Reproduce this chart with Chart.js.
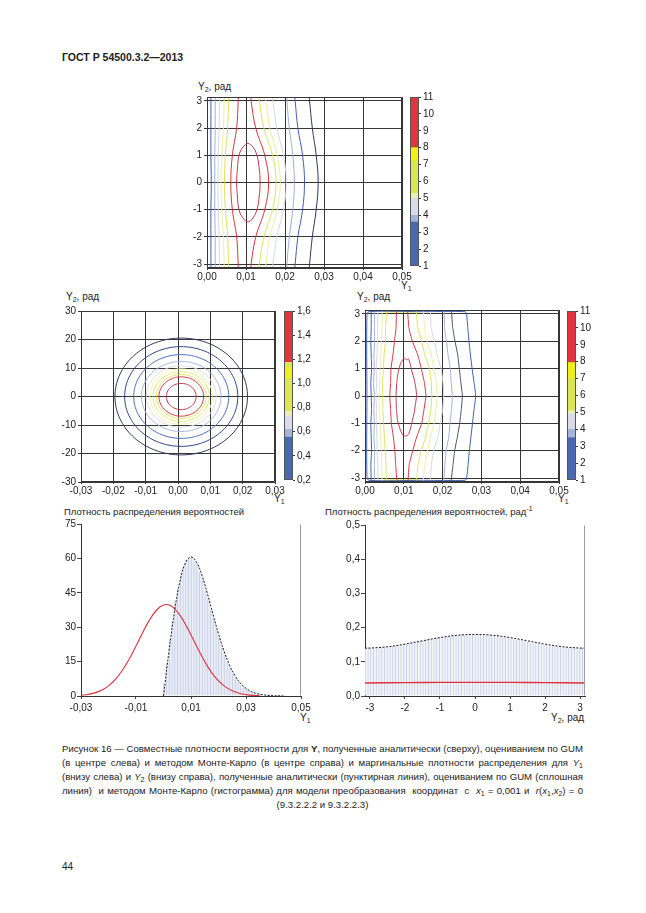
<!DOCTYPE html>
<html>
<head>
<meta charset="utf-8">
<script src="https://cdn.jsdelivr.net/npm/chart.js@4.4.1/dist/chart.umd.min.js"></script>
<style>
  body { margin: 0; background: #fff; }
  #page { position: relative; width: 646px; height: 913px; background: #fff; overflow: hidden;
          font-family: "Liberation Sans", Arial, sans-serif; color: #222; }
  #page canvas { position: absolute; }
  .t { position: absolute; font-size: 10px; line-height: 10px; white-space: nowrap; }
  .t sub { font-size: 7px; line-height: 0; vertical-align: -2px; }
  .t sup { font-size: 7px; line-height: 0; vertical-align: 4px; }
  #hdr { position: absolute; left: 62px; top: 51px; font-size: 10.5px; font-weight: bold; }
  #cap { position: absolute; left: 62px; top: 742px; width: 521px; font-size: 9.6px; line-height: 14px; }
  #cap div { text-align: justify; text-align-last: justify; }
  #cap div.last { text-align: center; text-align-last: center; }
  #cap sub { font-size: 7px; line-height: 0; vertical-align: -2px; }
  #num { position: absolute; left: 62px; top: 861px; font-size: 10px; }
</style>
</head>
<body>
<div id="page">
  <div id="hdr">ГОСТ Р 54500.3.2—2013</div>

  <div class="t" style="left:198px;top:82px">Y<sub>2</sub>, рад</div>
  <div class="t" style="left:401px;top:281px">Y<sub>1</sub></div>

  <div class="t" style="left:66px;top:292px">Y<sub>2</sub>, рад</div>
  <div class="t" style="left:274px;top:494px">Y<sub>1</sub></div>

  <div class="t" style="left:357px;top:292px">Y<sub>2</sub>, рад</div>
  <div class="t" style="left:558px;top:494px">Y<sub>1</sub></div>

  <div class="t" style="left:64px;top:507px;font-size:9.5px">Плотность распределения вероятностей</div>
  <div class="t" style="left:300px;top:713px">Y<sub>1</sub></div>

  <div class="t" style="left:325px;top:507px;font-size:9.5px">Плотность распределения вероятностей, рад<sup>-1</sup></div>
  <div class="t" style="left:551px;top:713px">Y<sub>2</sub>, рад</div>

  <div id="cap">
    <div>Рисунок 16 — Совместные плотности вероятности для <b>Y</b>, полученные аналитически (сверху), оцениванием по GUM</div>
    <div>(в центре слева) и методом Монте-Карло (в центре справа) и маргинальные плотности распределения для <i>Y</i><sub>1</sub></div>
    <div>(внизу слева) и <i>Y</i><sub>2</sub> (внизу справа), полученные аналитически (пунктирная линия), оцениванием по GUM (сплошная</div>
    <div>линия)&nbsp; и методом Монте-Карло (гистограмма) для модели преобразования&nbsp; координат&nbsp; с&nbsp; <i>x</i><sub>1</sub> = 0,001 и&nbsp; <i>r</i>(<i>x</i><sub>1</sub>,<i>x</i><sub>2</sub>) = 0</div>
    <div class="last">(9.3.2.2.2 и 9.3.2.2.3)</div>
  </div>

  <div id="num">44</div>
</div>

<script>
// ---- данные ----
// оси Y2 (рад) и Y1
const y2Ticks = [-3, -2, -1, 0, 1, 2, 3];
const y2Range = [-3.1416, 3.1416];
const y1TicksTop = [0, 0.01, 0.02, 0.03, 0.04, 0.05];
const y1TicksGum = [-0.03, -0.02, -0.01, 0, 0.01, 0.02, 0.03];
const y2TicksGum = [-30, -20, -10, 0, 10, 20, 30];
const y1TicksMarg = [-0.03, -0.01, 0.01, 0.03, 0.05];
const densTicksY1 = [0, 15, 30, 45, 60, 75];
const densTicksY2 = [0, 0.1, 0.2, 0.3, 0.4, 0.5];

// аналитические изолинии (сверху): Y1 в точках contourY
const contourY = [-3.1416, -3, -2, -1, 0, 1, 2, 3, 3.1416];
const ana1  = [0.0010, 0.0010, 0.0010, 0.0010, 0.0011, 0.0010, 0.0010, 0.0010, 0.0010];
const ana2  = [0.0021, 0.0021, 0.0021, 0.0020, 0.0020, 0.0020, 0.0021, 0.0021, 0.0021];
const ana3  = [0.0032, 0.0032, 0.0031, 0.0029, 0.0028, 0.0029, 0.0031, 0.0032, 0.0032];
const ana4  = [0.0044, 0.0044, 0.0042, 0.0038, 0.0036, 0.0038, 0.0042, 0.0044, 0.0044];
const ana5  = [0.0055, 0.0055, 0.0053, 0.0047, 0.0045, 0.0047, 0.0053, 0.0055, 0.0055];
const ana6  = [0.0080, 0.0080, 0.0076, 0.0065, 0.0061, 0.0065, 0.0076, 0.0080, 0.0080];
const ana7  = [0.0113, 0.0113, 0.0125, 0.0148, 0.0158, 0.0148, 0.0125, 0.0113, 0.0113];
const ana8  = [0.0133, 0.0134, 0.0146, 0.0168, 0.0177, 0.0168, 0.0146, 0.0134, 0.0133];
const ana9  = [0.0150, 0.0151, 0.0161, 0.0180, 0.0188, 0.0180, 0.0161, 0.0151, 0.0150];
const ana10 = [0.0168, 0.0169, 0.0179, 0.0196, 0.0203, 0.0196, 0.0179, 0.0169, 0.0168];
const ana11 = [0.0205, 0.0205, 0.0211, 0.0220, 0.0224, 0.0220, 0.0211, 0.0205, 0.0205];
const ana12 = [0.0225, 0.0226, 0.0233, 0.0245, 0.0250, 0.0245, 0.0233, 0.0226, 0.0225];
const ana13 = [0.0262, 0.0263, 0.0270, 0.0280, 0.0285, 0.0280, 0.0270, 0.0263, 0.0262];
// замкнутая изолиния в максимуме
const anaPeakX = [0.0105, 0.0118, 0.0128, 0.0134, 0.0136, 0.0134, 0.0128, 0.0118, 0.0105, 0.0092, 0.0082, 0.0078, 0.0076, 0.0078, 0.0082, 0.0092, 0.0105];
const anaPeakY = [1.45, 1.3, 1.0, 0.5, 0, -0.5, -1.0, -1.3, -1.45, -1.3, -1.0, -0.5, 0, 0.5, 1.0, 1.3, 1.45];

// GUM (в центре слева): центр, ст. отклонения и радиусы эллипсов (в сигмах)
const gumCenter = [0.001, 0];
const gumSigma = [0.01, 10];
const gumRadii = [2.05, 1.75, 1.47, 1.23, 1.08, 0.97, 0.87, 0.77, 0.69, 0.46];

// Монте-Карло (в центре справа)
const mcY = [-3.08, -2.5, -2, -1.5, -1, -0.5, 0, 0.5, 1, 1.5, 2, 2.5, 3.08];
const mc1  = [0.0016, 0.0015, 0.0017, 0.0016, 0.0015, 0.0017, 0.0016, 0.0015, 0.0017, 0.0016, 0.0015, 0.0016, 0.0016];
const mc2  = [0.0025, 0.0024, 0.0025, 0.0023, 0.0024, 0.0023, 0.0024, 0.0022, 0.0024, 0.0023, 0.0025, 0.0024, 0.0025];
const mc3  = [0.0033, 0.0033, 0.0031, 0.0031, 0.0029, 0.0030, 0.0028, 0.0030, 0.0029, 0.0031, 0.0032, 0.0032, 0.0033];
const mc4  = [0.0044, 0.0043, 0.0042, 0.0040, 0.0039, 0.0037, 0.0036, 0.0038, 0.0039, 0.0041, 0.0042, 0.0044, 0.0044];
const mc5  = [0.0055, 0.0054, 0.0052, 0.0050, 0.0048, 0.0046, 0.0046, 0.0045, 0.0048, 0.0049, 0.0053, 0.0053, 0.0056];
const mc6  = [0.0082, 0.0079, 0.0077, 0.0073, 0.0068, 0.0066, 0.0064, 0.0066, 0.0067, 0.0072, 0.0076, 0.0080, 0.0081];
const mc7  = [0.0111, 0.0114, 0.0123, 0.0133, 0.0146, 0.0152, 0.0157, 0.0153, 0.0145, 0.0136, 0.0122, 0.0113, 0.0110];
const mc8  = [0.0133, 0.0137, 0.0145, 0.0156, 0.0164, 0.0170, 0.0172, 0.0171, 0.0166, 0.0154, 0.0146, 0.0136, 0.0132];
const mc9  = [0.0150, 0.0154, 0.0161, 0.0169, 0.0178, 0.0183, 0.0186, 0.0184, 0.0177, 0.0171, 0.0160, 0.0153, 0.0151];
const mc10 = [0.0168, 0.0171, 0.0177, 0.0188, 0.0194, 0.0200, 0.0203, 0.0201, 0.0196, 0.0186, 0.0179, 0.0170, 0.0169];
const mc11 = [0.0203, 0.0206, 0.0209, 0.0216, 0.0219, 0.0223, 0.0225, 0.0222, 0.0220, 0.0214, 0.0210, 0.0205, 0.0204];
const mc12 = [0.0222, 0.0227, 0.0231, 0.0238, 0.0244, 0.0248, 0.0251, 0.0247, 0.0243, 0.0239, 0.0232, 0.0226, 0.0223];
const mcPeakX = [0.0100, 0.0108, 0.0112, 0.0116, 0.0121, 0.0127, 0.0131, 0.0133, 0.0130, 0.0127, 0.0122, 0.0117, 0.0112, 0.0104, 0.0097, 0.0090, 0.0084, 0.0081, 0.0080, 0.0082, 0.0086, 0.0092, 0.0100];
const mcPeakY = [1.38, 1.32, 1.36, 1.2, 0.9, 0.6, 0.3, 0, -0.3, -0.6, -0.9, -1.2, -1.4, -1.47, -1.42, -1.2, -0.9, -0.5, 0, 0.5, 0.9, 1.2, 1.38];
const mcOuterX = [0.0262, 0.0268, 0.0276, 0.0281, 0.0285, 0.0281, 0.0277, 0.0269, 0.0262, 0.0258, 0.0150, 0.0010, 0.0005, 0.0005, 0.0005, 0.0010, 0.0150, 0.0258, 0.0262];
const mcOuterY = [3.0, 2.0, 1.0, 0.5, 0, -0.5, -1.0, -2.0, -3.0, -3.08, -3.08, -3.08, -2.95, 0, 2.95, 3.08, 3.08, 3.08, 3.0];
const mcEdgeX = [0.0050, 0.0140];

// шкалы цветов: границы полос
const barTopBounds = [1, 3.6, 4.0, 5.0, 5.3, 7.2, 8.0, 11];
const barGumBounds = [0.2, 0.555, 0.62, 0.73, 0.77, 1.04, 1.13, 1.175, 1.6];
const barMcBounds  = [1, 3.5, 4.0, 4.9, 5.1, 7.0, 7.95, 11];
const barTopTicks = [1, 2, 3, 4, 5, 6, 7, 8, 9, 10, 11];
const barGumTicks = [0.2, 0.4, 0.6, 0.8, 1.0, 1.2, 1.4, 1.6];

// маргинальная плотность Y1 (внизу слева)
const histY1Start = 0, histY1Bin = 0.001;
const histY1 = [5.3, 14.5, 24.6, 32.5, 41.0, 47.0, 52.9, 56.3, 59.5, 60.2,
                60.8, 59.1, 57.6, 54.0, 50.9, 46.3, 42.6, 37.6, 33.7, 28.9,
                25.3, 21.1, 18.0, 14.6, 12.3, 9.8, 8.0, 6.2, 4.9, 3.8,
                2.9, 2.2, 1.6, 1.2, 0.9, 0.6, 0.4, 0.3, 0.2, 0.1];
const anaY1X = [0, 0.002, 0.004, 0.006, 0.008, 0.010, 0.012, 0.014, 0.016, 0.018, 0.020, 0.022,
                0.024, 0.026, 0.028, 0.030, 0.032, 0.034, 0.036, 0.038, 0.040, 0.042, 0.044];
const anaY1 = [0, 19.6, 36.9, 50.1, 58.1, 60.6, 58.4, 52.6, 44.5, 35.6, 27.1, 19.6,
               13.5, 8.85, 5.55, 3.33, 1.91, 1.05, 0.55, 0.28, 0.13, 0.06, 0.02];
const gumY1X = [-0.03, -0.0275, -0.025, -0.0225, -0.02, -0.0175, -0.015, -0.0125, -0.01, -0.0075, -0.005, -0.0025,
                0, 0.0025, 0.005, 0.0075, 0.01, 0.0125, 0.015, 0.0175, 0.02, 0.0225, 0.025, 0.0275, 0.03, 0.0325, 0.035];
const gumY1 = [0.33, 0.69, 1.36, 2.52, 4.40, 7.21, 11.1, 16.0, 21.8, 27.8, 33.3, 37.5,
               39.7, 39.5, 36.8, 32.3, 26.6, 20.6, 15.0, 10.2, 6.56, 3.96, 2.24, 1.19, 0.60, 0.26, 0.11];

// маргинальная плотность Y2 (внизу справа)
const histY2Start = -3.1416, histY2Bin = 6.2832 / 80;
const histY2 = [0.140, 0.141, 0.140, 0.141, 0.142, 0.141, 0.143, 0.143, 0.144, 0.146,
                0.146, 0.148, 0.149, 0.150, 0.152, 0.153, 0.154, 0.156, 0.158, 0.159,
                0.161, 0.162, 0.164, 0.165, 0.167, 0.168, 0.170, 0.171, 0.172, 0.174,
                0.175, 0.175, 0.177, 0.177, 0.178, 0.179, 0.179, 0.180, 0.180, 0.180,
                0.180, 0.179, 0.180, 0.179, 0.178, 0.178, 0.177, 0.176, 0.175, 0.173,
                0.172, 0.171, 0.170, 0.168, 0.167, 0.165, 0.164, 0.162, 0.160, 0.159,
                0.157, 0.156, 0.154, 0.153, 0.151, 0.150, 0.149, 0.147, 0.146, 0.145,
                0.144, 0.143, 0.142, 0.142, 0.141, 0.141, 0.140, 0.140, 0.140, 0.140];
const anaY2X = [-3.1416, -3, -2.5, -2, -1.5, -1, -0.5, 0, 0.5, 1, 1.5, 2, 2.5, 3, 3.1416];
const anaY2 = [0.140, 0.1402, 0.1440, 0.1517, 0.1614, 0.1708, 0.1776, 0.180, 0.1776, 0.1708, 0.1614, 0.1517, 0.1440, 0.1402, 0.140];
const gumY2X = [-3.1416, -2, -1, 0, 1, 2, 3.1416];
const gumY2 = [0.0380, 0.0391, 0.0397, 0.0399, 0.0397, 0.0391, 0.0380];

// ---- стили ----
const GRID = '#363636';
const C_BLUE = '#3f5fb2', C_LBLUE = '#9cb0dc', C_GRAY = '#d3d7e6', C_PALE = '#eaf0a6',
      C_YEL = '#dbe45a', C_RED = '#d9343f', C_DRED = '#c23a4c', C_NAVY = '#2e365e';
const anaColors = [C_BLUE, C_LBLUE, C_GRAY, C_PALE, C_YEL, C_RED, C_RED, C_YEL, C_PALE, C_GRAY, C_LBLUE, C_BLUE, C_NAVY];
const mcColors  = [C_BLUE, C_LBLUE, C_GRAY, C_PALE, C_YEL, C_RED, C_RED, C_YEL, C_PALE, C_GRAY, C_LBLUE, '#4b5068'];
const gumColors = [C_NAVY, '#2d418a', '#4d6cc0', '#a3b4de', '#d9dcea', '#eef3b4', '#e2e872', '#dbe45a', C_RED, C_DRED];
const barTopColors = ['#4a67b3', '#a3b4dd', '#d9dce8', '#e9efb5', '#dbe657', '#f0ef1a', '#df3540'];
const barGumColors = ['#4a67b3', '#a3b4dd', '#d9dce8', '#e9efb5', '#dbe657', '#f0ef1a', '#dbe657', '#df3540'];
const barMcColors  = ['#4a67b3', '#a3b4dd', '#d9dce8', '#e9efb5', '#dbe657', '#f0ef1a', '#df3540'];

Chart.defaults.font.family = '"Liberation Sans", Arial, sans-serif';
Chart.defaults.font.size = 10;
Chart.defaults.color = '#222';

const page = document.getElementById('page');
const fmt = (v, d) => v.toFixed(d).replace('.', ',');
const ticksFrom = arr => s => { s.ticks = arr.map(v => ({ value: v })); };
const fixSize = px => s => { if (s.isHorizontal()) s.height = px; else s.width = px; };
const pts = (xs, ys) => xs.map((x, i) => ({ x: x, y: ys[i] }));

// рамка вокруг области графика
const framePlugin = {
  id: 'frame',
  afterDatasetsDraw(chart, args, opts) {
    const a = chart.chartArea, ctx = chart.ctx;
    const l = Math.round(a.left) + 0.5, r = Math.round(a.right) - 0.5;
    const t = Math.round(a.top) + 0.5, b = Math.round(a.bottom) - 0.5;
    ctx.save();
    ctx.strokeStyle = opts.color || GRID;
    ctx.lineWidth = 1;
    ctx.beginPath();
    const s = opts.sides || 'ltrb';
    if (s.includes('t')) { ctx.moveTo(l, t); ctx.lineTo(r, t); }
    if (s.includes('b')) { ctx.moveTo(l, b); ctx.lineTo(r, b); }
    if (s.includes('l')) { ctx.moveTo(l, t); ctx.lineTo(l, b); }
    if (s.includes('r')) { ctx.moveTo(r, t); ctx.lineTo(r, b); }
    ctx.stroke();
    ctx.restore();
  }
};

function mount(box, m, config) {
  const c = document.createElement('canvas');
  const w = box.w + m.l + m.r, h = box.h + m.t + m.b;
  c.width = w; c.height = h;
  c.style.left = (box.l - m.l) + 'px'; c.style.top = (box.t - m.t) + 'px';
  c.style.width = w + 'px'; c.style.height = h + 'px';
  page.appendChild(c);
  const o = config.options;
  o.responsive = false; o.animation = false; o.devicePixelRatio = 1;
  o.plugins = Object.assign({ legend: { display: false }, tooltip: { enabled: false } }, o.plugins || {});
  return new Chart(c, config);
}

function lineSet(data, color, width, tension) {
  return { data: data, borderColor: color, borderWidth: width || 1, pointRadius: 0,
           tension: tension === undefined ? 0.4 : tension, fill: false };
}

// изолинии
function contourChart(box, datasets, xr, yr, xTicks, yTicks, xDec, yDec) {
  const m = { l: 30, t: 6, r: 16, b: 15 };
  return mount(box, m, {
    type: 'line',
    data: { datasets: datasets },
    options: {
      layout: { autoPadding: false, padding: { top: m.t, right: m.r, left: 0, bottom: 0 } },
      scales: {
        x: { type: 'linear', min: xr[0], max: xr[1], afterBuildTicks: ticksFrom(xTicks), afterFit: fixSize(m.b),
             ticks: { callback: v => fmt(v, xDec), maxRotation: 0, autoSkip: false, padding: 1 },
             grid: { color: GRID, tickLength: 2 }, border: { color: GRID } },
        y: { type: 'linear', min: yr[0], max: yr[1], afterBuildTicks: ticksFrom(yTicks), afterFit: fixSize(m.l),
             ticks: { callback: v => fmt(v, yDec), autoSkip: false, padding: 2 },
             grid: { color: GRID, tickLength: 3 }, border: { color: GRID } }
      },
      plugins: { frame: { color: GRID, sides: 'ltrb' } }
    },
    plugins: [framePlugin]
  });
}

// шкала цветов
function colorBar(box, bounds, colors, ticks, dec) {
  const m = { l: 0, t: 6, r: 24, b: 6 };
  const sets = colors.map((c, i) => ({ data: [[bounds[i], bounds[i + 1]]], backgroundColor: c, borderWidth: 0,
                                        grouped: false, barPercentage: 1, categoryPercentage: 1 }));
  return mount(box, m, {
    type: 'bar',
    data: { labels: [''], datasets: sets },
    options: {
      layout: { autoPadding: false, padding: { top: m.t, bottom: m.b, left: 0, right: 0 } },
      scales: {
        x: { display: false },
        y: { position: 'right', min: bounds[0], max: bounds[bounds.length - 1], afterBuildTicks: ticksFrom(ticks),
             afterFit: fixSize(m.r), ticks: { callback: v => fmt(v, dec), padding: 2, autoSkip: false },
             grid: { drawOnChartArea: false, tickLength: 2, tickColor: GRID }, border: { display: false } }
      },
      plugins: { frame: { color: '#555', sides: 'ltrb' } }
    },
    plugins: [framePlugin]
  });
}

// маргинальные плотности
function densityChart(box, datasets, xr, yr, xTicks, yTicks, xDec, yDec) {
  const m = { l: 30, t: 6, r: 16, b: 17 };
  return mount(box, m, {
    type: 'bar',
    data: { datasets: datasets },
    options: {
      layout: { autoPadding: false, padding: { top: m.t, right: m.r, left: 0, bottom: 0 } },
      scales: {
        x: { type: 'linear', offset: false, min: xr[0], max: xr[1], afterBuildTicks: ticksFrom(xTicks), afterFit: fixSize(m.b),
             ticks: { callback: v => fmt(v, xDec), maxRotation: 0, autoSkip: false, padding: 3 },
             grid: { offset: false, drawOnChartArea: false, tickLength: 3, tickColor: '#444' }, border: { color: '#333' } },
        y: { type: 'linear', min: yr[0], max: yr[1], afterBuildTicks: ticksFrom(yTicks), afterFit: fixSize(m.l),
             ticks: { callback: v => fmt(v, yDec), autoSkip: false, padding: 1 },
             grid: { drawOnChartArea: false, tickLength: 4, tickColor: '#444' }, border: { color: '#333' } }
      },
      plugins: { frame: { color: '#9c9c9c', sides: 'r' } }
    },
    plugins: [framePlugin]
  });
}

function histSet(values, start, bin, fill, line) {
  return { type: 'bar', order: 3,
           data: values.map((v, i) => ({ x: start + (i + 0.5) * bin, y: v })),
           backgroundColor: fill, borderColor: line, borderWidth: { left: 1, right: 0, top: 0, bottom: 0 },
           barPercentage: 1, categoryPercentage: 1 };
}

// ---- сверху: аналитически ----
const anaLines = [ana1, ana2, ana3, ana4, ana5, ana6, ana7, ana8, ana9, ana10, ana11, ana12, ana13];
const topSets = anaLines.map((xs, i) => lineSet(pts(xs, contourY), anaColors[i], 1));
topSets.push(lineSet(pts(anaPeakX, anaPeakY), C_DRED, 1));
contourChart({ l: 207, t: 95, w: 195, h: 173 }, topSets, [0, 0.05], y2Range, y1TicksTop, y2Ticks, 2, 0);
colorBar({ l: 410, t: 95, w: 9, h: 173 }, barTopBounds, barTopColors, barTopTicks, 0);

// ---- в центре слева: GUM ----
function ellipsePts(r) {
  const out = [];
  for (let a = 0; a <= 360; a += 5) {
    const t = a * Math.PI / 180;
    out.push({ x: gumCenter[0] + r * gumSigma[0] * Math.cos(t), y: gumCenter[1] + r * gumSigma[1] * Math.sin(t) });
  }
  return out;
}
const gumSets = gumRadii.map((r, i) => lineSet(ellipsePts(r), gumColors[i], 1, 0.4));
contourChart({ l: 81, t: 309, w: 194, h: 173 }, gumSets, [-0.03, 0.03], [-30, 30], y1TicksGum, y2TicksGum, 2, 0);
colorBar({ l: 284, t: 309, w: 9, h: 173 }, barGumBounds, barGumColors, barGumTicks, 1);

// ---- в центре справа: Монте-Карло ----
const mcLines = [mc1, mc2, mc3, mc4, mc5, mc6, mc7, mc8, mc9, mc10, mc11, mc12];
const mcSets = mcLines.map((xs, i) => lineSet(pts(xs, mcY), mcColors[i], 1, 0.15));
mcSets.push(lineSet(pts(mcPeakX, mcPeakY), C_DRED, 1, 0.15));
mcSets.push(lineSet(pts(mcOuterX, mcOuterY), '#4262b4', 1, 0.3));
mcSets.push(lineSet(pts(mcEdgeX, [3.09, 3.09]), '#e2e84e', 2, 0));
mcSets.push(lineSet(pts(mcEdgeX, [-3.09, -3.09]), '#e2e84e', 2, 0));
contourChart({ l: 365, t: 308, w: 194, h: 174 }, mcSets, [0, 0.05], y2Range, y1TicksTop, y2Ticks, 2, 0);
colorBar({ l: 567, t: 309, w: 9, h: 173 }, barMcBounds, barMcColors, barTopTicks, 0);

// ---- внизу слева: плотность Y1 ----
densityChart({ l: 81, t: 523, w: 220, h: 173 }, [
  histSet(histY1, histY1Start, histY1Bin, '#eaedf6', '#c2cbe6'),
  Object.assign(lineSet(pts(gumY1X, gumY1), '#e0303c', 1.1), { type: 'line', order: 1 }),
  Object.assign(lineSet(pts(anaY1X, anaY1), '#1a1a1a', 1), { type: 'line', order: 0, borderDash: [2, 1.5] })
], [-0.03, 0.05], [0, 75], y1TicksMarg, densTicksY1, 2, 0);

// ---- внизу справа: плотность Y2 ----
densityChart({ l: 365, t: 524, w: 220, h: 172 }, [
  histSet(histY2, histY2Start, histY2Bin, '#f3f5fa', '#c4cce4'),
  Object.assign(lineSet(pts(gumY2X, gumY2), '#e0303c', 1.4), { type: 'line', order: 1 }),
  Object.assign(lineSet(pts(anaY2X, anaY2), '#1a1a1a', 1), { type: 'line', order: 0, borderDash: [2, 1.5] })
], y2Range, [0, 0.5], y2Ticks, densTicksY2, 0, 1);
</script>
</body>
</html>
